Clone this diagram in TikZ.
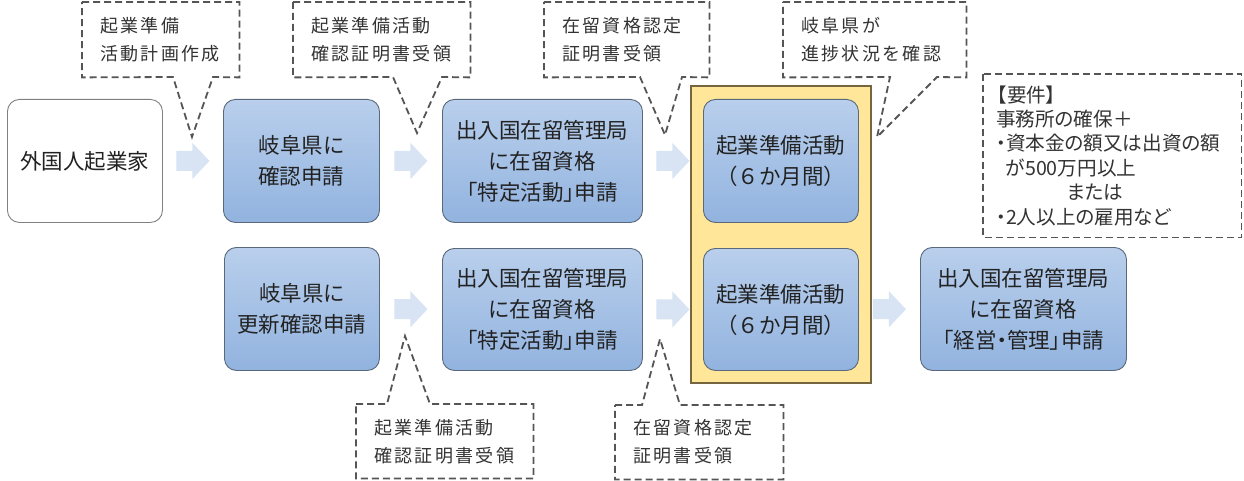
\documentclass[tikz,border=0pt]{standalone}
\usepackage{fontspec}
\setmainfont{Noto Sans CJK JP}
\newfontfamily\jpbox[RawFeature=+palt]{Noto Sans CJK JP}
\newfontfamily\jpplain{Noto Sans CJK JP}
\newfontfamily\jpcall[LetterSpace=13]{Noto Sans CJK JP}
\usetikzlibrary{calc}
\definecolor{boxtop}{HTML}{B9CFEC}
\definecolor{boxbot}{HTML}{92B3DF}
\definecolor{boxline}{HTML}{5A687C}
\definecolor{txt}{HTML}{222222}
\definecolor{calltxt}{HTML}{333333}
\definecolor{dashc}{HTML}{555555}
\definecolor{yfill}{HTML}{FFE699}
\definecolor{yline}{HTML}{76663F}
\definecolor{arrfill}{HTML}{D8E4F3}
\definecolor{startline}{HTML}{808080}
\begin{document}
\begin{tikzpicture}[x=1pt,y=-1pt,
  flowbox/.style={rectangle, rounded corners=12pt, draw=boxline, line width=0.9pt,
    top color=boxtop, bottom color=boxbot, anchor=north west, align=center,
    text=txt, inner sep=0pt, font=\jpbox\fontsize{21.5}{31}\selectfont},
  startbox/.style={flowbox, draw=startline, top color=white, bottom color=white},
  yellowbox/.style={rectangle, draw=yline, fill=yfill, line width=2pt, anchor=north west, inner sep=0pt},
  blockarrow/.pic={
    \fill[arrfill]
      (-16.5,-10) -- (-0.5,-10) -- (-0.5,-18) -- (16.5,0) -- (-0.5,18) -- (-0.5,10) -- (-16.5,10) -- cycle;
  },
  calltext/.style={rectangle, anchor=north west, inner xsep=18pt, inner ysep=0pt, align=left,
    text=calltxt, font=\jpcall\fontsize{18}{28}\selectfont},
  reqtext/.style={rectangle, anchor=north west, inner xsep=13pt, inner ysep=0pt, align=left,
    text=calltxt, font=\jpbox\fontsize{19.6}{24.4}\selectfont},
  calline/.style={draw=dashc, line width=1.8pt, dash pattern=on 7pt off 4pt}
]
\fill[white] (0,0) rectangle (1244,481);
\useasboundingbox (0,0) rectangle (1244,481);

% yellow frame
\node[yellowbox, minimum width=180pt, minimum height=297pt] (yl) at (690,85) {};

% boxes
\node[startbox, minimum width=155pt, minimum height=123pt] (b0) at (7,99) {外国人起業家};
\node[flowbox, minimum width=156pt, minimum height=123pt] (b1) at (223,99) {岐阜県に\\確認申請};
\node[flowbox, minimum width=200pt, minimum height=123pt] (b2) at (442,99) {出入国在留管理局\\に在留資格\\「特定活動」申請};
\node[flowbox, minimum width=155pt, minimum height=123pt] (b3) at (703,99) {起業準備活動\\{\jpplain（６か月間）}};
\node[flowbox, minimum width=155pt, minimum height=123pt] (b4) at (224,247) {岐阜県に\\更新確認申請};
\node[flowbox, minimum width=200pt, minimum height=122pt] (b5) at (442,248) {出入国在留管理局\\に在留資格\\「特定活動」申請};
\node[flowbox, minimum width=155pt, minimum height=122pt] (b6) at (703,248) {起業準備活動\\{\jpplain（６か月間）}};
\node[flowbox, minimum width=206pt, minimum height=123pt] (b7) at (920,247) {出入国在留管理局\\に在留資格\\「経営・管理」申請};

% block arrows
\coordinate (a1) at ($(b0.east)!0.5!(b1.west)$);
\coordinate (a2) at ($(b1.east)!0.5!(b2.west)$);
\coordinate (a3) at ($(b2.east)!0.5!(b3.west)$);
\coordinate (a4) at ($(b4.east)!0.5!(b5.west)$);
\coordinate (a5) at ($(b5.east)!0.5!(b6.west)$);
\coordinate (a6) at ($(b6.east)!0.5!(b7.west)$);
\foreach \a in {a1,a2,a3,a4,a5,a6} { \pic at (\a) {blockarrow}; }

% callout texts
\node[calltext, text width=121pt, minimum height=75pt] (c1) at (82,2) {起業準備\\活動計画作成};
\node[calltext, text width=141pt, minimum height=75pt] (c2) at (293,2) {起業準備活動\\確認証明書受領};
\node[calltext, text width=129pt, minimum height=75pt] (c3) at (544,2) {在留資格認定\\証明書受領};
\node[calltext, text width=147pt, minimum height=75pt] (c4) at (783,2) {岐阜県が\\進捗状況を確認};
\node[reqtext, text width=232pt, minimum height=163pt] (c5) at (983,74)
  {\hspace*{1pt}【要件】\\事務所の確保＋\\・資本金の額又は出資の額\\\phantom{・}が500万円以上\\\hspace*{71pt}または\\・2人以上の雇用など};
\node[calltext, text width=141pt, minimum height=74pt] (c6) at (356,404) {起業準備活動\\確認証明書受領};
\node[calltext, text width=132pt, minimum height=74pt] (c7) at (615,405) {在留資格認定\\証明書受領};

% callout pointer tips
\coordinate (t1) at (192,137);
\coordinate (t2) at (417,133);
\coordinate (t3) at (665,135);
\coordinate (t4) at (877,137);
\coordinate (t6) at (405,336);
\coordinate (t7) at (660,339);

% callout outlines
\draw[calline] (c1.north west) -- (c1.north east) -- (c1.south east) -- (213,77) -- (t1) -- (173,77) -- (c1.south west) -- cycle;
\draw[calline] (c2.north west) -- (c2.north east) -- (c2.south east) -- (442,77) -- (t2) -- (393,77) -- (c2.south west) -- cycle;
\draw[calline] (c3.north west) -- (c3.north east) -- (c3.south east) -- (682,77) -- (t3) -- (640,77) -- (c3.south west) -- cycle;
\draw[calline] (c4.north west) -- (c4.north east) -- (c4.south east) -- (937,77) -- (t4) -- (890,77) -- (c4.south west) -- cycle;
\draw[calline] (c5.north west) rectangle (c5.south east);
\draw[calline] (c6.north west) -- (387,404) -- (t6) -- (430,404) -- (c6.north east) -- (c6.south east) -- (c6.south west) -- cycle;
\draw[calline] (c7.north west) -- (642,405) -- (t7) -- (680,405) -- (c7.north east) -- (c7.south east) -- (c7.south west) -- cycle;
\end{tikzpicture}
\end{document}
